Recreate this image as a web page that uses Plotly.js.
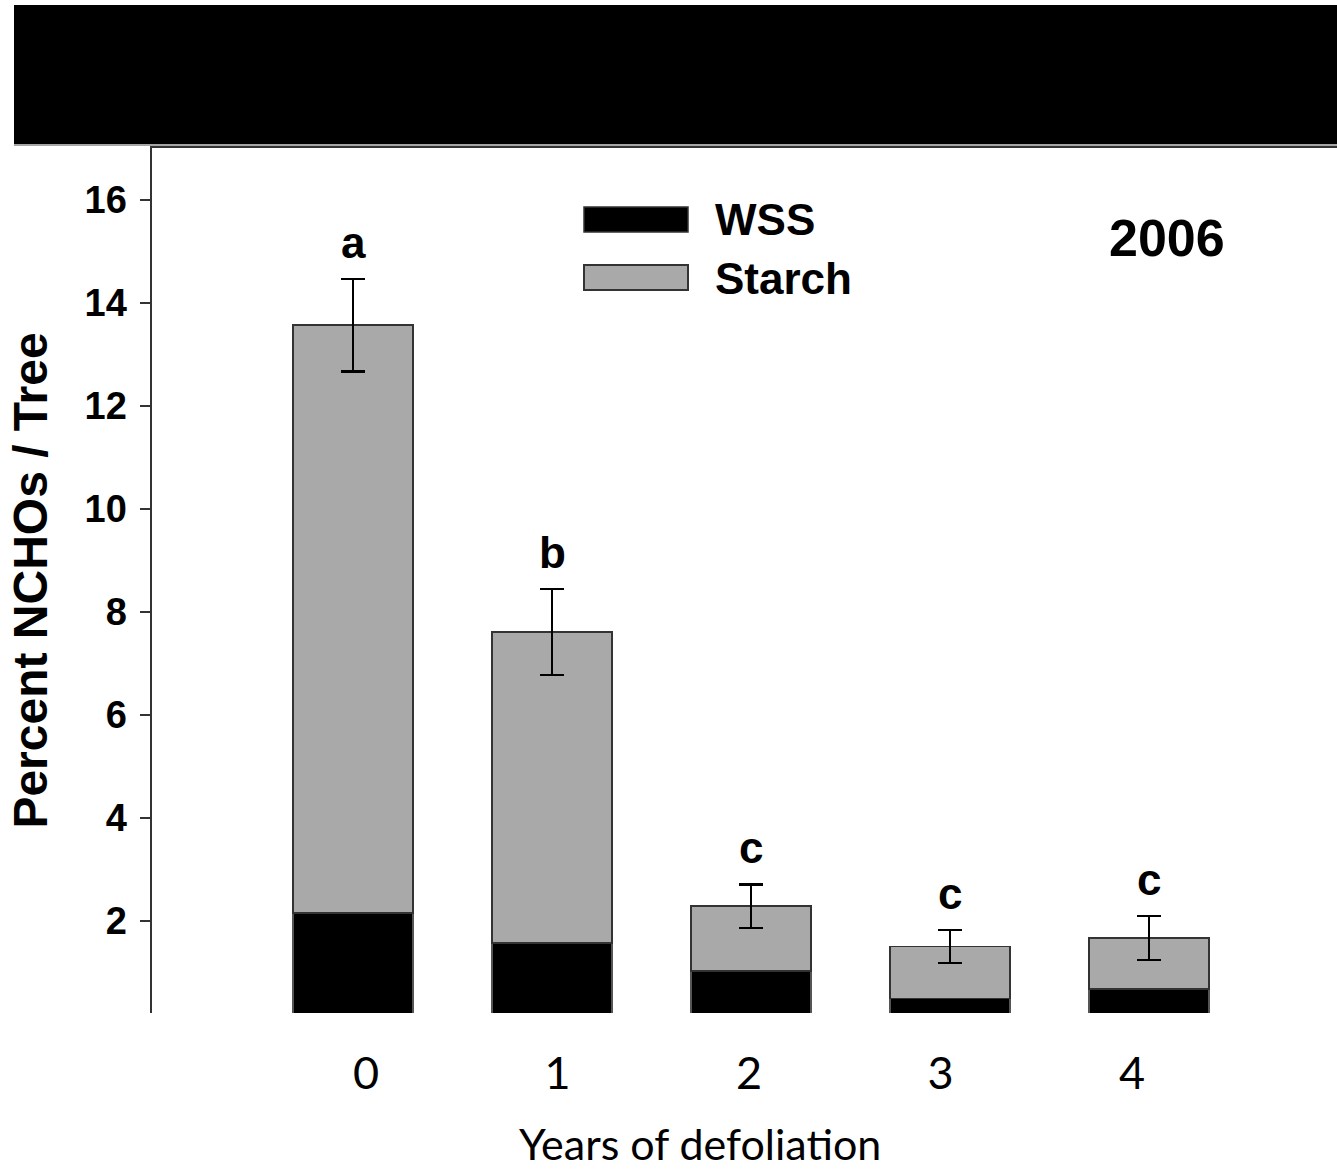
<!DOCTYPE html>
<html>
<head>
<meta charset="utf-8">
<script src="https://cdn.plot.ly/plotly-3.0.1.min.js"></script>
<style>
  html, body { margin: 0; padding: 0; background: #ffffff; }
  #chart { width: 1337px; height: 1170px; }
</style>
</head>
<body>
<div id="chart"></div>
<script>
// Non-structural carbohydrates per tree, 2006, by years of defoliation
const years = [0, 1, 2, 3, 4];
const yearLabels = ['0', '1', '2', '3', '4'];
const wss = [2.16, 1.57, 1.03, 0.50, 0.68];        // water-soluble sugars
const starch = [11.41, 6.04, 1.26, 1.01, 0.99];    // starch (stacked on WSS)
const totalSE = [0.90, 0.84, 0.42, 0.32, 0.43];    // error of the total
const letters = ['a', 'b', 'c', 'c', 'c'];         // significance groups
const yTicks = [2, 4, 6, 8, 10, 12, 14, 16];

const W = 1337, H = 1170;
const M = { l: 152, r: 0, t: 148, b: 157 };
const plotW = W - M.l - M.r, plotH = H - M.t - M.b;
// page pixel -> paper coordinates
const px = x => (x - M.l) / plotW;
const py = y => (H - M.b - y) / plotH;

const ARIAL = '"Liberation Sans", Arial, sans-serif';
const SANS = 'Lato, "Open Sans", sans-serif';
const GREY = '#a9a9a9';

const totals = wss.map((v, i) => v + starch[i]);

const traces = [
  {
    type: 'bar', name: 'WSS', x: years, y: wss,
    width: 0.603,
    marker: { color: '#000000', line: { color: '#555555', width: 1.5 } },
    showlegend: false, hoverinfo: 'skip'
  },
  {
    type: 'bar', name: 'Starch', x: years, y: starch,
    width: 0.603,
    marker: { color: GREY, line: { color: '#333333', width: 1.5 } },
    error_y: { type: 'data', array: totalSE, visible: true, color: '#000000', thickness: 2.2, width: 12 },
    showlegend: false, hoverinfo: 'skip'
  },
  {
    // carrier for the bottom category labels
    type: 'scatter', mode: 'markers', x: years, y: years.map(() => null),
    xaxis: 'x2', yaxis: 'y', showlegend: false, hoverinfo: 'skip'
  }
];

const annotations = letters.map((t, i) => ({
  x: years[i], y: totals[i] + totalSE[i], xref: 'x', yref: 'y',
  text: t, showarrow: false, yanchor: 'bottom', yshift: 10,
  font: { family: ARIAL, size: 44, color: '#000000', weight: 'bold' }
}));

annotations.push(
  { xref: 'paper', yref: 'paper', x: px(713), y: py(219), xanchor: 'left', yanchor: 'middle',
    text: '<b>WSS</b>', showarrow: false, font: { family: ARIAL, size: 44, color: '#000' } },
  { xref: 'paper', yref: 'paper', x: px(713), y: py(278), xanchor: 'left', yanchor: 'middle',
    text: '<b>Starch</b>', showarrow: false, font: { family: ARIAL, size: 44, color: '#000' } },
  { xref: 'paper', yref: 'paper', x: px(1167), y: py(238), xanchor: 'center', yanchor: 'middle',
    text: '<b>2006</b>', showarrow: false, font: { family: ARIAL, size: 52, color: '#000' } },
  // x-axis title
  { xref: 'paper', yref: 'paper', x: px(700), y: py(1143), xanchor: 'center', yanchor: 'middle',
    text: 'Years of defoliation', showarrow: false, font: { family: SANS, size: 43, color: '#000' } }
);

const shapes = [
  // dark title band
  { type: 'rect', xref: 'paper', yref: 'paper', x0: px(14), x1: px(1337), y0: py(144), y1: py(5),
    fillcolor: '#000000', line: { width: 0 }, layer: 'above' },
  { type: 'line', xref: 'paper', yref: 'paper', x0: px(14), x1: px(1337), y0: py(145), y1: py(145),
    line: { color: '#888888', width: 1.5 } },
  // legend swatches
  { type: 'rect', xref: 'paper', yref: 'paper', x0: px(584), x1: px(688), y0: py(232), y1: py(207),
    fillcolor: '#000000', line: { color: '#333333', width: 1.5 } },
  { type: 'rect', xref: 'paper', yref: 'paper', x0: px(584), x1: px(688), y0: py(290), y1: py(265),
    fillcolor: GREY, line: { color: '#333333', width: 2 } }
];

const layout = {
  width: W, height: H,
  margin: M,
  paper_bgcolor: '#ffffff', plot_bgcolor: '#ffffff',
  barmode: 'stack',
  showlegend: false,
  xaxis: {
    range: [-1.0101, 4.9447], side: 'top',
    showline: true, linecolor: '#333333', linewidth: 2.5,
    showticklabels: false, ticks: '', showgrid: false, zeroline: false, fixedrange: true
  },
  xaxis2: {
    overlaying: 'x', side: 'bottom', anchor: 'y',
    range: [-1.1175, 5.0705],
    tickmode: 'array', tickvals: years, ticktext: yearLabels,
    ticks: '', showline: false, showgrid: false, zeroline: false,
    ticklabelstandoff: 30,
    tickfont: { family: SANS, size: 45, color: '#000000' }
  },
  yaxis: {
    range: [0.214, 17.01],
    tickmode: 'array', tickvals: yTicks,
    ticks: 'outside', ticklen: 10, tickwidth: 2, tickcolor: '#333333',
    showline: true, linecolor: '#333333', linewidth: 2.5,
    showgrid: false, zeroline: false,
    ticklabelstandoff: 5,
    tickfont: { family: ARIAL, size: 38, color: '#000000', weight: 'bold' },
    title: { text: '<b>Percent NCHOs / Tree</b>', standoff: 22,
             font: { family: ARIAL, size: 48, color: '#000000' } }
  },
  annotations: annotations,
  shapes: shapes
};

Plotly.newPlot('chart', traces, layout, { staticPlot: true, displayModeBar: false });
</script>
</body>
</html>
